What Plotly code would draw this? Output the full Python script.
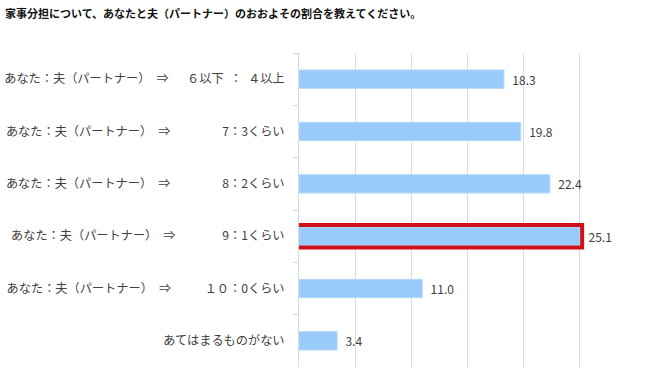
import plotly.graph_objects as go

title_text = "家事分担について、あなたと夫（パートナー）のおおよその割合を教えてください。"
categories = [
    "あなた：夫（パートナー）\u3000⇒\u3000\u2002６以下\u2002：\u2002４以上",
    "あなた：夫（パートナー）\u3000⇒\u3000\u3000\u3000\u3000\u20057：3くらい",
    "あなた：夫（パートナー）\u3000⇒\u3000\u3000\u3000\u3000\u20058：2くらい",
    "あなた：夫（パートナー）\u3000⇒\u3000\u3000\u3000\u2002\u20049：1くらい",
    "あなた：夫（パートナー）\u3000⇒\u3000\u3000\u2002\u2005１０：0くらい",
    "あてはまるものがない",
]
values = [18.3, 19.8, 22.4, 25.1, 11.0, 3.4]
highlight_index = 3

FONT = "Noto Sans CJK JP, Noto Sans, sans-serif"

fig = go.Figure()
fig.add_trace(go.Bar(
    x=values,
    y=categories,
    orientation="h",
    width=0.35,
    marker=dict(color="#99cbfa", line=dict(color="#b3d8fb", width=1)),
    text=[f"\u00a0\u00a0{v:.1f}" for v in values],
    textposition="outside",
    textfont=dict(family=FONT, size=12, color="#404040"),
    cliponaxis=False,
    hoverinfo="skip",
))

# highlight box around the selected bar
fig.add_shape(
    type="rect", xref="x", yref="y",
    x0=-0.18, x1=values[highlight_index] + 0.18,
    y0=highlight_index - 0.215, y1=highlight_index + 0.215,
    line=dict(color="#d0101a", width=4),
    fillcolor="rgba(0,0,0,0)",
    layer="above",
)

fig.update_layout(
    width=650, height=382,
    margin=dict(l=299, r=15, t=53, b=15),
    paper_bgcolor="white", plot_bgcolor="white",
    showlegend=False,
    title=dict(
        text=title_text,
        x=5 / 650, xref="container", xanchor="left",
        y=1 - 14 / 382, yref="container", yanchor="middle",
        font=dict(family=FONT, size=11, color="#111111", weight="bold"),
    ),
    xaxis=dict(
        range=[0, 30], dtick=5, showticklabels=False,
        showgrid=True, gridcolor="#dcdcdc", gridwidth=1,
        zeroline=False, showline=False, fixedrange=True,
    ),
    yaxis=dict(
        type="category", autorange="reversed",
        showline=True, linecolor="#d9d9d9", linewidth=1,
        ticks="outside", tickson="boundaries", ticklen=5, tickcolor="#d9d9d9",
        tickfont=dict(family=FONT, size=12.2, color="#404040"),
        showgrid=False, ticklabelstandoff=11, automargin=False,
        fixedrange=True,
    ),
)

fig.write_html(
    "out.html",
    config={"displayModeBar": False},
    post_script="document.body.style.margin='0';",
)
